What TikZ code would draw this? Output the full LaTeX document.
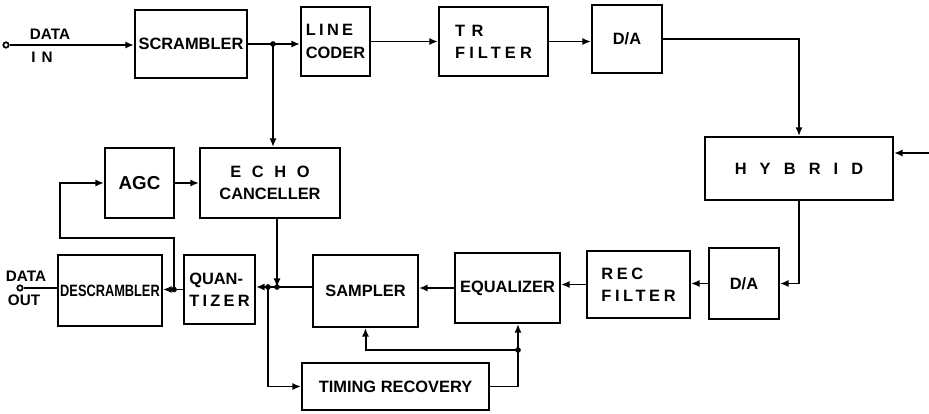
\documentclass[tikz,border=0pt]{standalone}
\usepackage{fontspec}
\setmainfont{Liberation Sans}
\usetikzlibrary{arrows.meta}

\newcommand{\spaced}[2][25]{{\addfontfeature{LetterSpace=#1}#2}}

\tikzset{
  blk/.style={draw, line width=1.8pt, align=center, inner sep=1pt,
    font=\bfseries\fontsize{14}{19}\selectfont},
  lbl/.style={inner sep=0pt, font=\bfseries\fontsize{13}{15}\selectfont},
  sig/.style={line width=1.7pt, -{Latex[length=2.6mm,width=2.2mm]}},
  wire/.style={line width=1.7pt},
  jdot/.style={circle, fill, inner sep=0pt, minimum size=1.7mm},
  term/.style={circle, draw, line width=1.5pt, inner sep=0pt, minimum size=1.6mm},
}

\begin{document}
\begin{tikzpicture}[x=0.3mm, y=-0.3mm]
        \useasboundingbox (0,0) rectangle (929,414);

        % Transmit path
        \node[blk, minimum width=33.6mm, minimum height=20.4mm] (scr) at (191,44) {SCRAMBLER};
        \node[blk, align=left, minimum width=20.7mm, minimum height=20.7mm] (lcod) at (335.5,41.5) {\spaced[20]{LINE}\\CODER};
        \node[blk, align=left, minimum width=32.7mm, minimum height=20.7mm] (trf) at (493.5,41.5) {\spaced[40]{TR}\\\spaced{FILTER}};
        \node[blk, minimum width=21mm, minimum height=20.4mm] (datop) at (627,39) {D/A};
        \node[blk, minimum width=56.4mm, minimum height=18.9mm] (hyb) at (799,168.5) {\spaced[80]{HYBRID}};

        % Echo path
        \node[blk, font=\bfseries\fontsize{16}{19}\selectfont, minimum width=20.7mm, minimum height=21mm] (agc) at (139.5,183) {AGC};
        \node[blk, minimum width=42mm, minimum height=21mm] (echo) at (270,183) {\spaced[65]{ECHO}\\CANCELLER};

        % Receive path
        \node[blk, minimum width=31.2mm, minimum height=21.3mm] (desc) at (110,290.5) {\scalebox{0.78}[1]{DESCRAMBLER}};
        \node[blk, align=left, minimum width=21.3mm, minimum height=20.7mm] (quan) at (219.5,289.5) {QUAN-\\\spaced[20]{TIZER}};
        \node[blk, minimum width=31.5mm, minimum height=21.6mm] (samp) at (365.5,291) {SAMPLER};
        \node[blk, minimum width=31.5mm, minimum height=21mm] (equ) at (507.5,288) {EQUALIZER};
        \node[blk, align=left, minimum width=30.9mm, minimum height=20.1mm] (recf) at (638.5,284.5) {\spaced[22]{REC}\\\spaced[22]{FILTER}};
        \node[blk, minimum width=21mm, minimum height=21.3mm] (dabot) at (744,283.5) {D/A};
        \node[blk, minimum width=56.1mm, minimum height=14.1mm] (timr) at (395.5,386.5) {TIMING RECOVERY};

        % Terminals and labels
        \node[term] (din) at (6,45) {};
        \node[lbl] (dinlbl) at (50,34) {DATA};
        \node[lbl] (inlbl) at (42,57) {\spaced[40]{IN}};
        \node[term] (dout) at (20,288) {};
        \node[lbl] (doutlbl) at (26,276) {DATA};
        \node[lbl] (outlbl) at (24,300) {OUT};

        % Junctions
        \coordinate (j1) at (273,44);
        \coordinate (sum) at (277,287);
        \coordinate (tj) at (268,287);
        \coordinate (aj) at (174,289.5);
        \coordinate (fb) at (60,238);
        \coordinate (tk) at (518,350);
        \coordinate (lineend) at (929,153);

        % Transmit connections
        \draw[sig] (din) -- (din -| scr.west);
        \draw[sig] (scr.east) -- (scr.east -| lcod.west);
        \draw[sig] (j1) -- (j1 |- echo.north);
        \draw[sig] (lcod.east) -- (trf.west);
        \draw[sig] (trf.east) -- (trf.east -| datop.west);
        \draw[sig] (datop.east) -| (hyb.north);
        \draw[sig] (lineend) -- (lineend -| hyb.east);

        % Receive connections
        \draw[sig] (hyb.south) |- (dabot.east);
        \draw[sig] (dabot.west) -- (dabot.west -| recf.east);
        \draw[sig] (recf.west) -- (recf.west -| equ.east);
        \draw[sig] (equ.west) -- (equ.west -| samp.east);
        \draw[sig] (samp.west |- sum) -- (sum -| quan.east);
        \draw[sig] (sum |- echo.south) -- (sum);
        \draw[sig] (tj) |- (timr.west);
        \draw[sig] (quan.west |- aj) -- (aj -| desc.east);
        \draw[wire] (desc.west |- dout) -- (dout);

        % AGC loop
        \draw[sig] (aj) |- (fb) |- (agc.west);
        \draw[sig] (agc.east) -- (echo.west);

        % Timing
        \draw[sig] (timr.east) -| (tk) -- (tk |- equ.south);
        \draw[sig] (tk) -| (samp.south);

        \foreach \j in {j1,sum,tj,aj,tk}
            \node[jdot] at (\j) {};
    \end{tikzpicture}
\end{document}
